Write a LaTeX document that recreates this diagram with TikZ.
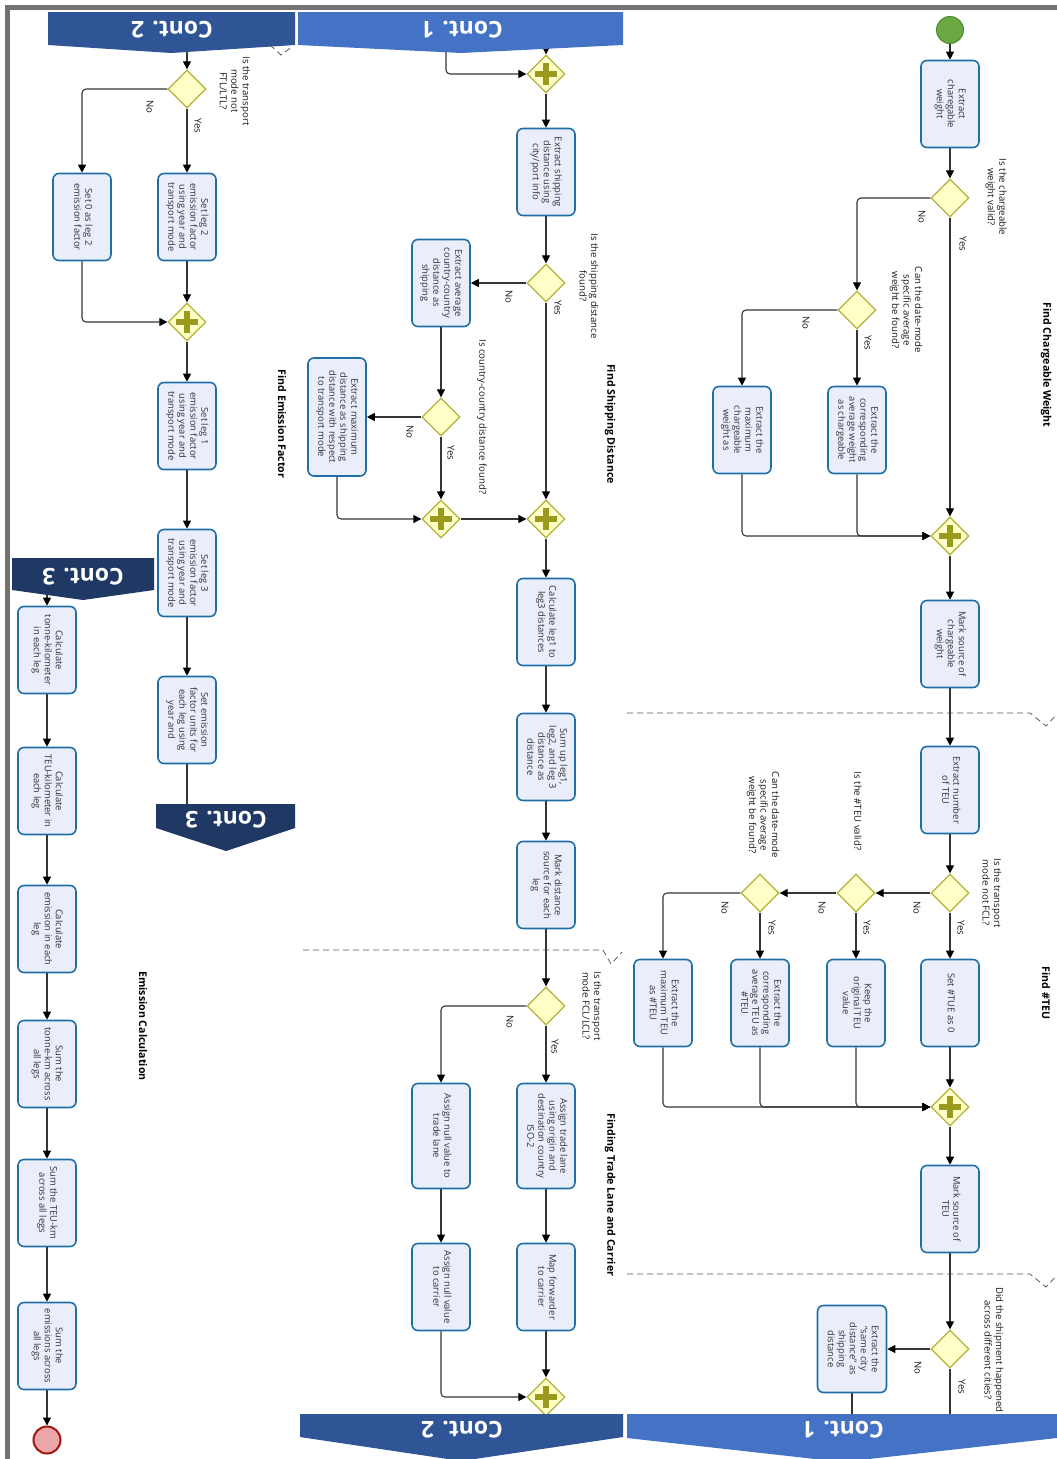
\documentclass[tikz,border=0pt]{standalone}
\usepackage{fontspec}
\setmainfont{Open Sans}
\usetikzlibrary{shapes.geometric,arrows.meta}
\definecolor{boxf}{HTML}{EAEEFB}
\definecolor{boxd}{HTML}{1F6FA6}
\definecolor{gwf}{HTML}{FFFFC8}
\definecolor{gwd}{HTML}{B2B23A}
\definecolor{plusc}{HTML}{9A9A1E}
\definecolor{linec}{HTML}{363636}
\definecolor{txtc}{HTML}{333333}
\definecolor{cone}{HTML}{4472C4}
\definecolor{ctwo}{HTML}{2F5597}
\definecolor{cthree}{HTML}{1F3864}
\definecolor{framec}{HTML}{767171}
\definecolor{startf}{HTML}{6AA843}
\definecolor{startd}{HTML}{4F8A2E}
\definecolor{endf}{HTML}{EBA6A6}
\definecolor{endd}{HTML}{A31515}
\newcommand{\rt}[1]{\rotatebox{-90}{\begin{tabular}{@{}c@{}}#1\end{tabular}}}
\tikzset{
 task/.style={draw=boxd, fill=boxf, line width=1.6pt, rounded corners=6pt, minimum width=58pt, minimum height=87pt, inner sep=0pt, text=txtc, font=\fontsize{9.4}{11}\selectfont},
 xorgw/.style={diamond, draw=gwd, fill=gwf, line width=1.3pt, minimum width=38pt, minimum height=38pt, inner sep=0pt},
 andgw/.style={xorgw, path picture={
   \fill[plusc] ([xshift=-3pt,yshift=-11pt]path picture bounding box.center) rectangle ([xshift=3pt,yshift=11pt]path picture bounding box.center);
   \fill[plusc] ([xshift=-11pt,yshift=-3pt]path picture bounding box.center) rectangle ([xshift=11pt,yshift=3pt]path picture bounding box.center);}},
 startev/.style={circle, fill=startf, draw=startd, line width=1pt, minimum size=27pt, inner sep=0pt},
 endev/.style={circle, fill=endf, draw=endd, line width=2pt, minimum size=27pt, inner sep=0pt},
 conn/.style={draw=linec, line width=1.1pt, rounded corners=4pt, -{Triangle[length=8pt,width=8pt,color=black]}},
 plainline/.style={draw=linec, line width=1.1pt},
 lbl/.style={rotate=-90, align=center, text=black!90, font=\fontsize{9.6}{11.5}\selectfont, inner sep=0pt},
 ttl/.style={rotate=-90, font=\fontsize{10.6}{12}\selectfont\bfseries, inner sep=0pt},
 ctext/.style={rotate=180, text=white, font=\fontsize{23}{26}\selectfont\bfseries, inner sep=0pt},
 lane/.style={draw=black!65, line width=0.8pt, dash pattern=on 6pt off 4pt},
}
\begin{document}
\begin{tikzpicture}[x=1pt,y=-1pt]
\useasboundingbox (0,0) rectangle (1057,1459);
\fill[white] (0,0) rectangle (1057,1459);
\draw[framec, line width=5pt] (7.5,1459) -- (7.5,7.5) -- (1057,7.5);

% lane separators
\draw[lane] (627,713) -- (1030,713) -- (1046,726) -- (1057,714);
\draw[lane] (627,1274) -- (1030,1274) -- (1046,1287) -- (1057,1275);
\draw[lane] (303,950) -- (603,950) -- (611,964) -- (622,952);
\draw[lane] (270,45) -- (281,55) -- (293,46);

% ---------- column 1 ----------
\node[startev] (start) at (950,30) {};
\node[task] (b1) at (950,104) {\rt{Extract\\charegable\\weight}};
\node[xorgw] (d1) at (950,198) {};
\node[xorgw] (d2) at (857,310) {};
\node[task] (b2) at (857,430) {\rt{Extract the\\corresponding\\average weight\\as chargeable}};
\node[task] (b3) at (742,430) {\rt{Extract the\\maximum\\chargeable\\weight as}};
\node[andgw] (g1) at (950,536) {};
\node[task] (b4) at (950,644) {\rt{Mark source of\\chargeable\\weight}};
\node[task] (b5) at (950,790) {\rt{Extract number\\of TEU}};
\node[xorgw] (d3) at (950,893) {};
\node[xorgw] (d4) at (856,893) {};
\node[xorgw] (d5) at (760,893) {};
\node[task] (b6) at (950,1003) {\rt{Set \#TUE as 0}};
\node[task] (b7) at (856,1003) {\rt{Keep the\\original TEU\\value}};
\node[task] (b8) at (760,1003) {\rt{Extract the\\corresponding\\average TEU as\\\#TEU}};
\node[task] (b9) at (663,1003) {\rt{Extract the\\maximum TEU\\as \#TEU}};
\node[andgw] (g2) at (950,1107) {};
\node[task] (b10) at (950,1209) {\rt{Mark source of\\TEU}};
\node[xorgw] (d6) at (950,1349) {};
\node[task, minimum width=69pt] (b11) at (852,1349) {\rt{Extract the\\``same city\\distance'' as\\shipping\\distance}};
\coordinate (c1in) at (950,1416);
\coordinate (c1inb) at (852,1416);

\node[lbl] (ld1) at (996,197) {Is the chargeable\\weight valid?};
\node[lbl] (yd1) at (963,244) {Yes};
\node[lbl] (nd1) at (922,217) {No};
\node[lbl] (ld2) at (906,310) {Can the date-mode\\specific average\\weight be found?};
\node[lbl] (yd2) at (868,343) {Yes};
\node[lbl] (nd2) at (806,323) {No};
\node[lbl] (ld3) at (992,893) {Is the transport\\mode not FCL?};
\node[lbl] (yd3) at (961,928) {Yes};
\node[lbl] (nd3) at (917,908) {No};
\node[lbl] (ld4) at (858,811) {Is the \#TEU valid?};
\node[lbl] (yd4) at (867,928) {Yes};
\node[lbl] (nd4) at (822,908) {No};
\node[lbl] (ld5) at (763,815) {Can the date-mode\\specific average\\weight be found?};
\node[lbl] (yd5) at (772,928) {Yes};
\node[lbl] (nd5) at (725,908) {No};
\node[lbl] (ld6) at (994,1350) {Did the shipment happened\\across different cities?};
\node[lbl] (yd6) at (962,1387) {Yes};
\node[lbl] (nd6) at (918,1368) {No};
\node[ttl] (t1) at (1046,365) {Find Chargeable Weight};
\node[ttl] (t2) at (1046,993) {Find \#TEU};

\draw[conn] (start) -- (b1);
\draw[conn] (b1) -- (d1);
\draw[conn] (d1) -- (g1);
\draw[conn] (d1.west) -| (d2.north);
\draw[conn] (d2) -- (b2);
\draw[conn] (d2.west) -| (b3.north);
\draw[conn] (b2.south) |- (g1.west);
\draw[conn] (b3.south) |- (g1.west);
\draw[conn] (g1) -- (b4);
\draw[conn] (b4) -- (b5);
\draw[conn] (b5) -- (d3);
\draw[conn] (d3) -- (b6);
\draw[conn] (d3.west) -- (d4.east);
\draw[conn] (d4) -- (b7);
\draw[conn] (d4.west) -- (d5.east);
\draw[conn] (d5) -- (b8);
\draw[conn] (d5.west) -| (b9.north);
\draw[conn] (b6) -- (g2);
\draw[conn] (b7.south) |- (g2.west);
\draw[conn] (b8.south) |- (g2.west);
\draw[conn] (b9.south) |- (g2.west);
\draw[conn] (g2) -- (b10);
\draw[conn] (b10) -- (d6);
\draw[conn] (d6.west) -- (b11.east);
\draw[plainline] (d6.south) -- (c1in);
\draw[plainline] (b11.south) -- (c1inb);

% ---------- column 2 ----------
\coordinate (c1outA) at (546,46);
\coordinate (c1outB) at (446,50);
\node[andgw] (g3) at (546,74) {};
\node[task] (b12) at (546,172) {\rt{Extract shipping\\distance using\\city/port info}};
\node[xorgw] (d7) at (546,283) {};
\node[task] (b13) at (441,283) {\rt{Extract average\\country-country\\distance as\\shipping}};
\node[xorgw] (d8) at (441,417) {};
\node[task, minimum height=118pt] (b14) at (337,417) {\rt{Extract maximum\\distance as shipping\\distance with respect\\to transport mode}};
\node[andgw] (g4) at (441,519) {};
\node[andgw] (g5) at (546,519) {};
\node[task] (b15) at (546,622) {\rt{Calculate leg1 to\\leg3 distances}};
\node[task] (b16) at (546,757) {\rt{Sum up leg1,\\leg2, and leg 3\\distance as\\distance}};
\node[task] (b17) at (546,885) {\rt{Mark distance\\source for each\\leg}};
\node[xorgw] (d9) at (546,1006) {};
\node[task, minimum height=105pt] (b18) at (546,1136) {\rt{Assign trade lane\\using origin and\\destination country\\ISO-2}};
\node[task, minimum height=105pt] (b19) at (441,1136) {\rt{Assign null value to\\trade lane}};
\node[task] (b20) at (546,1287) {\rt{Map forwarder\\to carrier}};
\node[task] (b21) at (441,1287) {\rt{Assign null value\\to carrier}};
\node[andgw] (g6) at (546,1397) {};
\coordinate (c2in) at (546,1416);

\node[lbl] (ld7) at (589,286) {Is the shipping distance\\found?};
\node[lbl] (yd7) at (558,308) {Yes};
\node[lbl] (nd7) at (509,297) {No};
\node[lbl] (ld8) at (482,417) {Is country-country distance found?};
\node[lbl] (yd8) at (451,453) {Yes};
\node[lbl] (nd8) at (410,432) {No};
\node[lbl] (ld9) at (592,1006) {Is the transport\\mode FCL/LCL?};
\node[lbl] (yd9) at (555,1047) {Yes};
\node[lbl] (nd9) at (510,1022) {No};
\node[ttl] (t3) at (610,424) {Find Shipping Distance};
\node[ttl] (t4) at (610,1195) {Finding Trade Lane and Carrier};

\draw[conn] (c1outA) -- (g3.north);
\draw[conn] (c1outB) |- (g3.west);
\draw[conn] (g3) -- (b12);
\draw[conn] (b12) -- (d7);
\draw[conn] (d7.west) -- (b13.east);
\draw[conn] (d7) -- (g5);
\draw[conn] (b13) -- (d8);
\draw[conn] (d8.west) -- (b14.east);
\draw[conn] (d8) -- (g4);
\draw[conn] (b14.south) |- (g4.west);
\draw[conn] (g4) -- (g5);
\draw[conn] (g5) -- (b15);
\draw[conn] (b15) -- (b16);
\draw[conn] (b16) -- (b17);
\draw[conn] (b17) -- (d9);
\draw[conn] (d9) -- (b18);
\draw[conn] (d9.west) -| (b19.north);
\draw[conn] (b18) -- (b20);
\draw[conn] (b19) -- (b21);
\draw[conn] (b20) -- (g6);
\draw[conn] (b21.south) |- (g6.west);
\draw[plainline] (g6.south) -- (c2in);

% ---------- column 3 ----------
\coordinate (c2out) at (187,48);
\node[xorgw] (d10) at (187,89) {};
\node[task] (b22) at (187,217) {\rt{Set leg 2\\emission factor\\using year and\\transport mode}};
\node[task] (b23) at (82,217) {\rt{Set 0 as leg 2\\emission factor}};
\node[andgw] (g7) at (187,322) {};
\node[task] (b24) at (187,426) {\rt{Set leg 1\\emission factor\\using year and\\transport mode}};
\node[task] (b25) at (187,573) {\rt{Set leg 3\\emission factor\\using year and\\transport mode}};
\node[task] (b26) at (187,720) {\rt{Set emission\\factor units for\\each leg using\\year and}};
\coordinate (c3in) at (187,806);

\node[lbl] (ld10) at (235,91) {Is the transport\\mode not\\FTL/LTL?};
\node[lbl] (yd10) at (198,126) {Yes};
\node[lbl] (nd10) at (150,107) {No};
\node[ttl] (t5) at (282,424) {Find Emission Factor};

\draw[conn] (c2out) -- (d10.north);
\draw[conn] (d10) -- (b22);
\draw[conn] (d10.west) -| (b23.north);
\draw[conn] (b22) -- (g7);
\draw[conn] (b23.south) |- (g7.west);
\draw[conn] (g7) -- (b24);
\draw[conn] (b24) -- (b25);
\draw[conn] (b25) -- (b26);
\draw[plainline] (b26.south) -- (c3in);

% ---------- column 4 ----------
\coordinate (c3out) at (47,594);
\node[task] (b27) at (47,650) {\rt{Calculate\\tonne-kilometer\\in each leg}};
\node[task] (b28) at (47,791) {\rt{Calculate\\TEU-kilometer in\\each leg}};
\node[task] (b29) at (47,929) {\rt{Calculate\\emission in each\\leg}};
\node[task] (b30) at (47,1064) {\rt{Sum the\\tonne-km across\\all legs}};
\node[task] (b31) at (47,1203) {\rt{Sum the TEU-km\\across all legs}};
\node[task] (b32) at (47,1346) {\rt{Sum the\\emissions across\\all legs}};
\node[endev] (end) at (47,1440) {};
\node[ttl] (t6) at (143,1026) {Emission Calculation};

\draw[conn] (c3out) -- (b27.north);
\draw[conn] (b27) -- (b28);
\draw[conn] (b28) -- (b29);
\draw[conn] (b29) -- (b30);
\draw[conn] (b30) -- (b31);
\draw[conn] (b31) -- (b32);
\draw[conn] (b32) -- (end);

% ---------- continuation banners ----------
\fill[ctwo] (48,12) -- (295,12) -- (295,45) -- (171,53) -- (48,45) -- cycle;
\node[ctext] (k2top) at (172,30) {Cont. 2};
\fill[cone] (298,12) -- (623,12) -- (623,45) -- (461,53) -- (298,45) -- cycle;
\node[ctext] (k1top) at (462,30) {Cont. 1};
\fill[cthree] (12,558) -- (154,558) -- (154,590) -- (83,600) -- (12,590) -- cycle;
\node[ctext] (k3left) at (83,577) {Cont. 3};
\fill[cthree] (156,804) -- (295,804) -- (295,828) -- (226,851) -- (156,828) -- cycle;
\node[ctext] (k3mid) at (226,820) {Cont. 3};
\fill[ctwo] (300,1414) -- (623,1414) -- (623,1437) -- (461,1461) -- (300,1437) -- cycle;
\node[ctext] (k2bot) at (462,1430) {Cont. 2};
\fill[cone] (627,1414) -- (1057,1414) -- (1057,1438) -- (842,1462) -- (627,1438) -- cycle;
\node[ctext] (k1bot) at (843,1430) {Cont. 1};
\end{tikzpicture}
\end{document}
